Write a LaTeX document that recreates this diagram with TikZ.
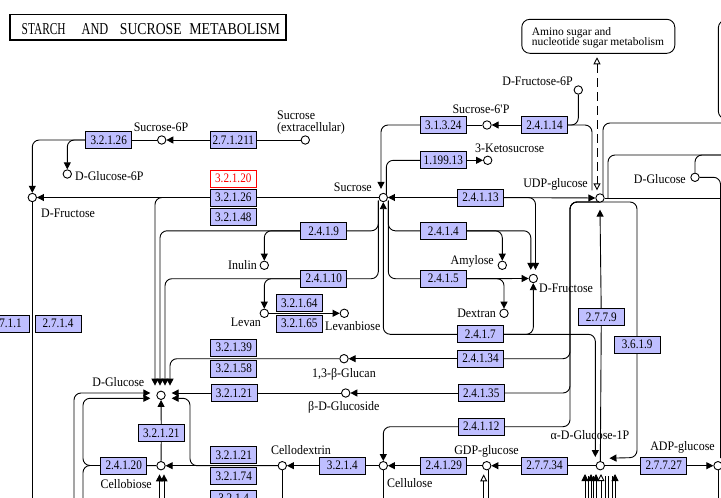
\documentclass[tikz,border=0pt]{standalone}
\usepackage{fontspec}
\setmainfont{Liberation Serif}
\newfontfamily\kenzfont[FakeStretch=0.86]{Liberation Serif}
\newfontfamily\klblfont[FakeStretch=0.92]{Liberation Serif}
\usetikzlibrary{arrows.meta}
\pgfdeclarelayer{bg}
\pgfsetlayers{bg,main}
\definecolor{enzfill}{RGB}{191,191,255}
\definecolor{kred}{RGB}{255,0,0}
\begin{document}
\begin{tikzpicture}[x=1pt,y=-1pt,
 enz/.style={draw,fill=enzfill,minimum width=46pt,minimum height=17pt,inner sep=0pt,line width=0.8pt,font=\kenzfont\fontsize{13}{13}\selectfont},
 cpd/.style={circle,draw,fill=white,minimum size=8.4pt,inner sep=0pt,line width=0.9pt},
 lbl/.style={inner sep=0pt,font=\klblfont\fontsize{13}{13}\selectfont},
 mlbl/.style={inner sep=0pt,font=\fontsize{11.5}{12}\selectfont},
 rc/.style={rounded corners=7pt},
 arr/.style={-{Triangle[length=7pt,width=7pt]}},
 oarr/.style={-{Triangle[open,length=7pt,width=7pt,fill=white]}},
 darr/.style={dash pattern=on 9pt off 5pt,{Triangle[open,length=7pt,width=7pt,fill=white]}-{Triangle[open,length=7pt,width=7pt,fill=white]}},
]
\path[use as bounding box] (0,0) rectangle (721,498);

% ---------- boxes ----------
\node[draw,line width=1.6pt,minimum width=276pt,minimum height=25.5pt,inner sep=0pt] (title) at (148,27.3) {};
\node[anchor=base,inner sep=0pt] (tw1) at (43.7,34.3) {\resizebox{44pt}{11pt}{STARCH}};
\node[anchor=base,inner sep=0pt] (tw2) at (95,34.3) {\resizebox{26.7pt}{11pt}{AND}};
\node[anchor=base,inner sep=0pt] (tw3) at (150.8,34.3) {\resizebox{61.7pt}{11pt}{SUCROSE}};
\node[anchor=base,inner sep=0pt] (tw4) at (234.7,34.3) {\resizebox{90.7pt}{11pt}{METABOLISM}};

\node[draw,rounded corners=8pt,minimum width=153pt,minimum height=34pt,inner sep=0pt,line width=0.9pt] (map) at (598.3,36.3) {};
\node[mlbl,anchor=base west] (mapt1) at (531.7,35) {Amino sugar and};
\node[mlbl,anchor=base west] (mapt2) at (531.7,45.7) {nucleotide sugar metabolism};
\node[draw,rounded corners=8pt,minimum width=60pt,minimum height=99pt,inner sep=0pt,line width=0.9pt] (map2) at (748.3,69.5) {};

% ---------- compounds ----------
\node[cpd] (s6p) at (161.7,140) {};
\node[cpd] (sucext) at (305.3,140) {};
\node[cpd] (g6p) at (67.3,174) {};
\node[cpd] (fru1) at (32.3,197.5) {};
\node[cpd] (suc) at (383.3,197.5) {};
\node[cpd] (inulin) at (264.3,265.3) {};
\node[cpd] (levan) at (264.3,313.3) {};
\node[cpd] (levanbiose) at (344.3,313.3) {};
\node[cpd] (amylose) at (502.3,265.3) {};
\node[cpd] (dextran) at (504,313.3) {};
\node[cpd] (fru2) at (533.3,278.5) {};
\node[cpd] (s6pp) at (487,125) {};
\node[cpd] (ketosuc) at (487.7,160.3) {};
\node[cpd] (f6p) at (578.3,90) {};
\node[cpd] (udpg) at (600,198) {};
\node[cpd] (glc2) at (695,177.3) {};
\node[cpd] (glucan) at (344,358.7) {};
\node[cpd] (glucoside) at (345.7,393) {};
\node[cpd] (glc) at (161,395.3) {};
\node[cpd] (cellobiose) at (161,465.7) {};
\node[cpd] (cellodextrin) at (282.3,465.7) {};
\node[cpd] (cellulose) at (383.3,465.7) {};
\node[cpd] (gdpg) at (486.7,465.7) {};
\node[cpd] (g1p) at (600.3,465.7) {};
\node[cpd] (adpg) at (718,465.7) {};

% ---------- enzymes ----------
\node[enz] (e1) at (108.7,140) {3.2.1.26};
\node[enz] (e2) at (233.3,140) {2.7.1.211};
\node[enz,draw=kred,text=kred,fill=white] (e3) at (233.3,178.7) {3.2.1.20};
\node[enz] (e4) at (233.3,197.5) {3.2.1.26};
\node[enz] (e5) at (233.3,217) {3.2.1.48};
\node[enz] (e6) at (323.7,230.8) {2.4.1.9};
\node[enz] (e7) at (323.7,278.7) {2.4.1.10};
\node[enz] (e8) at (299.3,303) {3.2.1.64};
\node[enz] (e9) at (299.3,323.7) {3.2.1.65};
\node[enz] (e10) at (443.3,125) {3.1.3.24};
\node[enz] (e11) at (443.3,160.3) {1.199.13};
\node[enz] (e12) at (544.5,125) {2.4.1.14};
\node[enz] (e13) at (480.5,197.5) {2.4.1.13};
\node[enz] (e14) at (443.3,230.8) {2.4.1.4};
\node[enz] (e15) at (443.3,278.7) {2.4.1.5};
\node[enz] (e16) at (480.3,334.3) {2.4.1.7};
\node[enz] (e17) at (601.3,317) {2.7.7.9};
\node[enz] (e18) at (637.2,344.7) {3.6.1.9};
\node[enz] (e19) at (480.5,358.7) {2.4.1.34};
\node[enz] (e20) at (481.2,393) {2.4.1.35};
\node[enz] (e21) at (481.2,426.7) {2.4.1.12};
\node[enz] (e22) at (233.7,347.7) {3.2.1.39};
\node[enz] (e23) at (233.7,368.7) {3.2.1.58};
\node[enz] (e24) at (234,393) {3.2.1.21};
\node[enz] (e25) at (161.3,433) {3.2.1.21};
\node[enz] (e26) at (123.7,465.5) {2.4.1.20};
\node[enz] (e27) at (233.7,455) {3.2.1.21};
\node[enz] (e28) at (233.7,476) {3.2.1.74};
\node[enz] (e29) at (233.7,498.7) {3.2.1.4};
\node[enz] (e30) at (342.3,465.7) {3.2.1.4};
\node[enz] (e31) at (443.7,465.7) {2.4.1.29};
\node[enz] (e32) at (544.5,465.7) {2.7.7.34};
\node[enz] (e33) at (663.7,465.7) {2.7.7.27};
\node[enz] (e34) at (6.3,323.7) {2.7.1.1};
\node[enz] (e35) at (58,323.7) {2.7.1.4};

% ---------- labels ----------
\node[lbl,anchor=base] (l1) at (161,131) {Sucrose-6P};
\node[lbl,anchor=base west] (l2) at (277,119.5) {Sucrose};
\node[lbl,anchor=base west] (l2b) at (277,131) {(extracellular)};
\node[lbl,anchor=base west] (l3) at (75,180) {D-Glucose-6P};
\node[lbl,anchor=base west] (l4) at (41,217) {D-Fructose};
\node[lbl,anchor=base east] (l5) at (372,191) {Sucrose};
\node[lbl,anchor=base east] (l6) at (257,269) {Inulin};
\node[lbl,anchor=base east] (l7) at (261,326.7) {Levan};
\node[lbl,anchor=base west] (l8) at (325,330) {Levanbiose};
\node[lbl,anchor=base east] (l9) at (494,264.5) {Amylose};
\node[lbl,anchor=base east] (l10) at (496,317.5) {Dextran};
\node[lbl,anchor=base west] (l11) at (539,292) {D-Fructose};
\node[lbl,anchor=base east] (l12) at (588,187) {UDP-glucose};
\node[lbl,anchor=base east] (l13) at (686,183.5) {D-Glucose};
\node[lbl,anchor=base] (l14) at (481,113) {Sucrose-6\textquotesingle P};
\node[lbl,anchor=base west] (l15) at (475,152.7) {3-Ketosucrose};
\node[lbl,anchor=base east] (l16) at (573,85) {D-Fructose-6P};
\node[lbl,anchor=base west] (l17) at (312,377) {1,3-β-Glucan};
\node[lbl,anchor=base west] (l18) at (308,410.7) {β-D-Glucoside};
\node[lbl,anchor=base east] (l19) at (144.5,386) {D-Glucose};
\node[lbl,anchor=base east] (l20) at (152,488) {Cellobiose};
\node[lbl,anchor=base] (l21) at (301,454) {Cellodextrin};
\node[lbl,anchor=base west] (l22) at (387,487) {Cellulose};
\node[lbl,anchor=base] (l23) at (486.5,454) {GDP-glucose};
\node[lbl,anchor=base] (l24) at (590,439) {α-D-Glucose-1P};
\node[lbl,anchor=base] (l25) at (682.5,450.7) {ADP-glucose};

% ---------- free ends ----------
\coordinate (fdown) at (32.3,510);
\coordinate (b74) at (74,510);
\coordinate (b83) at (83,510);
\coordinate (cb1) at (159.5,510);
\coordinate (cb2) at (164,510);
\coordinate (cdd) at (282.3,510);
\coordinate (cud) at (383.3,510);
\coordinate (gd1) at (483.7,510);
\coordinate (gd2) at (488.2,510);
\coordinate (ad1) at (718,510);
\coordinate (r1) at (725,123);
\coordinate (r2) at (725,155);
\coordinate (r3) at (725,198);
\coordinate (r4) at (720.5,458);

% ---------- connectors ----------
\begin{pgfonlayer}{bg}
\fill[white] (0,0) rectangle (721,498);
\begin{scope}[line width=0.9pt]
\draw (sucext) -- (e2);
\draw[arr] (e2) -- (s6p);
\draw (s6p) -- (e1);
\draw[arr,rc] (e1.west) -- (32.3,140) -- (fru1);
\draw[arr,rc] (e1.west) -- (67.3,140) -- (g6p);
\draw (fru1) -- (fdown);
\draw[arr] (suc) -- (fru1);
% into D-Glucose from above
\draw[arr,rc] (e4.west) -- (155,197.5) -- ([xshift=-6pt,yshift=5pt]glc.north);
\draw[rc] ([xshift=-5pt,yshift=-3pt]suc.center) -- (378.3,230.8) -- (e6.east);
\draw[arr,rc] (e6.west) -- (160,230.8) -- ([xshift=-1pt,yshift=5pt]glc.north);
\draw[arr,rc] (e6.west) -- (264.3,230.8) -- (inulin);
\draw[rc] ([xshift=-5pt,yshift=-3pt]suc.center) -- (378.3,278.7) -- (e7.east);
\draw[arr,rc] (e7.west) -- (165,278.7) -- ([xshift=4pt,yshift=5pt]glc.north);
\draw[arr,rc] (e7.west) -- (264.3,278.7) -- (levan);
\draw[arr] (levan) -- (levanbiose);
\draw[arr,rc] (glucan) -- (170,358.7) -- ([xshift=9pt,yshift=5pt]glc.north);
% D-Glucose sides
\draw[arr] (glucoside) -- ([xshift=6pt,yshift=2.3pt]glc.east);
\draw[arr,rc] (cellodextrin) -- (190,465.7) -- (190,398.3) -- ([xshift=6pt,yshift=-3pt]glc.east);
\draw[arr,rc] (b74) -- (74,393) -- ([xshift=-6pt,yshift=2.3pt]glc.west);
\draw[arr,rc] (e26.west) -- (83,465.5) -- (83,398.3) -- ([xshift=-6pt,yshift=-3pt]glc.west);
\draw[rc] (e26.west) -- (83,465.5) -- (b83);
\draw (cellobiose) -- (e25);
\draw[arr] (e25) -- (glc);
\draw[arr] (cellodextrin) -- (cellobiose);
\draw (cellobiose) -- (e26);
\draw[arr] (cb1) -- ([xshift=-1.5pt,yshift=-4pt]cellobiose.south);
\draw[arr] (cb2) -- ([xshift=3pt,yshift=-4pt]cellobiose.south);
\draw (cellodextrin) -- (cdd);
\draw[arr] (e30) -- (cellodextrin);
\draw (cellulose) -- (e30);
\draw (cellulose) -- (cud);
\draw[arr] (e31) -- (cellulose);
\draw (gdpg) -- (e31);
\draw[arr] (e32) -- (gdpg);
\draw (g1p) -- (e32);
\draw[oarr] (gd1) -- ([xshift=-3pt,yshift=-4pt]gdpg.south);
\draw (gd2) -- ([xshift=1.5pt]gdpg.south);
\draw (g1p) -- (e33);
\draw[arr] (e33) -- (adpg);
\draw (adpg) -- (ad1);
\draw[arr,rc] (e21.west) -- (383.3,426.7) -- (cellulose);
% sucrose
\draw[arr,rc] (e16.west) -- (383.3,334.3) -- (suc);
\draw[arr,rc] (e16.east) -- (533.3,334.3) -- (fru2);
\draw[arr,rc] (e16.east) -- (595.3,334.3) -- ([xshift=-5pt,yshift=4pt]g1p.north);
\draw[arr] (e13) -- (suc);
\draw[arr] (e13) -- (udpg);
\draw[arr,rc] (e13.east) -- (535.5,197.5) -- ([xshift=2.2pt,yshift=4pt]fru2.north);
\draw[rc] ([xshift=5pt,yshift=-3pt]suc.center) -- (388.3,230.8) -- (e14.west);
\draw[arr,rc] (e14.east) -- (502.3,230.8) -- (amylose);
\draw[arr,rc] (e14.east) -- (530.8,230.8) -- ([xshift=-2.5pt,yshift=4pt]fru2.north);
\draw[rc] ([xshift=5pt,yshift=-3pt]suc.center) -- (388.3,278.7) -- (e15.west);
\draw[arr] (e15) -- (fru2);
\draw[arr,rc] (e15.east) -- (504,278.7) -- (dextran);
\draw[arr,rc] (e10.west) -- (381,125) -- ([xshift=-2.3pt,yshift=4pt]suc.north);
\draw[rc] ([xshift=3pt,yshift=3pt]suc.center) -- (386.3,160.3) -- (e11.west);
\draw[arr] (e11) -- (ketosuc);
\draw (s6pp) -- (e10);
\draw[arr] (e12) -- (s6pp);
\draw[rc] (e12.east) -- (578.3,125) -- (f6p);
\draw[rc] (e12.east) -- (592,125) -- ([xshift=-8pt,yshift=3pt]udpg.north);
\draw[darr] ([xshift=-1.3pt,yshift=-3.5pt]map.south) -- ([xshift=-3pt,yshift=3pt]udpg.north);
% UDP-glucose right side
\draw[rc] ([xshift=3pt,yshift=2pt]udpg.center) -- (603,123) -- (r1);
\draw[rc] ([xshift=8pt]udpg.center) -- (608,155) -- (r2);
\draw (udpg) -- (r3);
\draw[rc] (glc2) -- (695,155) -- (r2);
\draw[rc] (glc2) -- (720.5,177.3) -- (r4);
% UDP-glucose below
\draw[rc] ([yshift=-4pt]udpg.center) -- (570,202) -- (570,358.7) -- (e19.east);
\draw[rc] ([yshift=-4pt]udpg.center) -- (570,202) -- (570,393) -- (e20.east);
\draw[rc] ([yshift=-4pt]udpg.center) -- (570,202) -- (570,426.7) -- (e21.east);
\draw[arr] (e19) -- (glucan);
\draw[arr] (e20) -- (glucoside);
\draw[arr,rc] ([yshift=-4pt]udpg.center) -- (637,202) -- (637,457.5) -- ([xshift=4.5pt,yshift=7.5pt]g1p.east);
\draw (g1p) -- (e17);
\draw[arr] (e17) -- ([yshift=-7pt]udpg.south);
% alpha-D-Glucose-1P below
\foreach \x [count=\i] in {585,591,596,615} {
  \coordinate (ga\i) at (\x,510); \coordinate (gt\i) at (\x,474);
  \draw[arr] (ga\i) -- (gt\i);}
\foreach \x [count=\i] in {588,593.5,605,608.5,612} {
  \coordinate (gp\i) at (\x,510); \coordinate (gq\i) at (\x,476);
  \draw (gp\i) -- (gq\i);}
\coordinate (go1) at (601,510); \coordinate (go2) at (601,474);
\draw[oarr] (go1) -- (go2);
\end{scope}
\end{pgfonlayer}
\end{tikzpicture}
\end{document}
